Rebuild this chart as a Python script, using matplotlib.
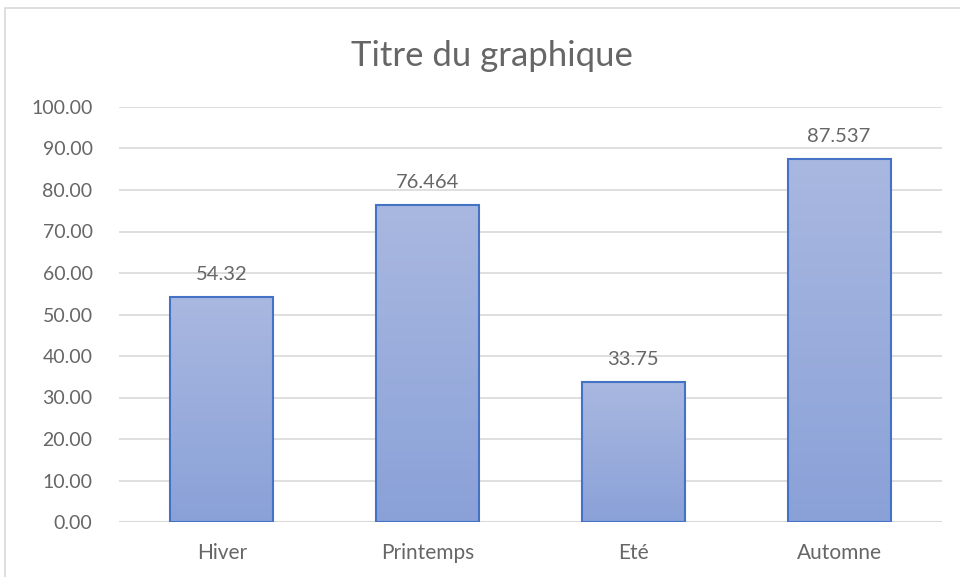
import matplotlib
matplotlib.use("Agg")
import matplotlib.pyplot as plt
import numpy as np
from matplotlib.patches import Rectangle
from matplotlib.colors import LinearSegmentedColormap

categories = ["Hiver", "Printemps", "Eté", "Automne"]
values = [54.32, 76.464, 33.75, 87.537]
labels = ["54.32", "76.464", "33.75", "87.537"]
yticks = [0, 10, 20, 30, 40, 50, 60, 70, 80, 90, 100]

plt.rcParams['font.family'] = ['Lato', 'DejaVu Sans']
txt = '#666666'

fig = plt.figure(figsize=(9.6, 5.77), dpi=100)
fig.patches.append(Rectangle((5/960, -0.1), 1.2, 1 - 8/577 + 0.1, transform=fig.transFigure,
                             fill=False, edgecolor='#D9D9D9', linewidth=1.2, zorder=0))
ax = fig.add_axes([119/960, 1 - 522/577, (942 - 119)/960, (522 - 107)/577])
ax.set_xlim(-0.5, 3.5)
ax.set_ylim(0, 100)
ax.set_yticks(yticks)
ax.set_yticklabels([f"{v:.2f}" for v in yticks], color=txt, fontsize=14)
x = np.arange(len(categories))
ax.set_xticks(x)
ax.set_xticklabels(categories, color=txt, fontsize=15)
ax.tick_params(length=0)
ax.tick_params(axis='y', pad=19)
ax.tick_params(axis='x', pad=15)
for s in ax.spines.values():
    s.set_visible(False)
ax.grid(axis='y', color='#D9D9D9', linewidth=1.2)
ax.set_axisbelow(True)
ax.axhline(0, color='#D9D9D9', linewidth=1.5, zorder=1)

cmap = LinearSegmentedColormap.from_list('g', ['#8AA1D8', '#A9B8E0'])
bars = ax.bar(x, values, width=0.5, facecolor='none', edgecolor='#4472C4', linewidth=1.5, zorder=3)
grad = np.linspace(0, 1, 256).reshape(-1, 1)
for b in bars:
    bx, by = b.get_x(), b.get_y()
    w, h = b.get_width(), b.get_height()
    im = ax.imshow(grad, cmap=cmap, origin='lower', aspect='auto',
                   extent=[bx, bx + w, by, by + h], zorder=2)
    im.set_clip_path(b)
ax.set_xlim(-0.5, 3.5)
ax.set_ylim(0, 100)

for xi, v, lab in zip(x, values, labels):
    ax.annotate(lab, (xi, v), xytext=(0, 12), textcoords='offset points',
                ha='center', va='baseline', color=txt, fontsize=14.5)

fig.text(492/960, 1 - 56/577, "Titre du graphique", ha='center', va='center',
         color=txt, fontsize=25)

fig.savefig("out.png", dpi=100)
